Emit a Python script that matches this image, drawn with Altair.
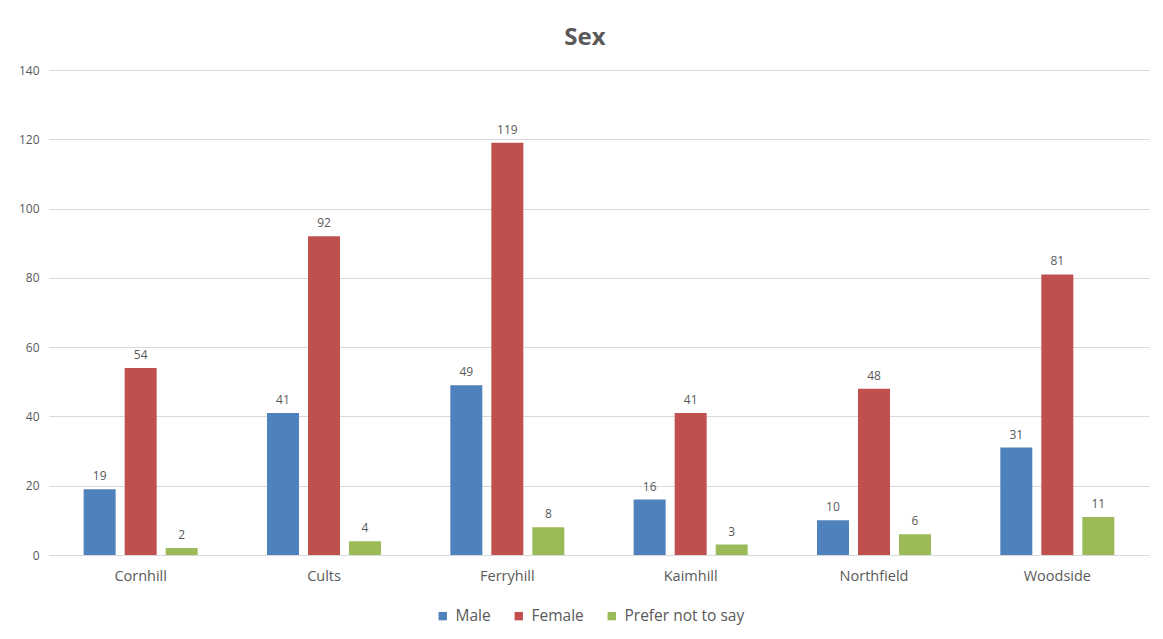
import altair as alt
import pandas as pd

categories = ["Cornhill", "Cults", "Ferryhill", "Kaimhill", "Northfield", "Woodside"]
series = ["Male", "Female", "Prefer not to say"]
male = [19, 41, 49, 16, 10, 31]
female = [54, 92, 119, 41, 48, 81]
prefer_not = [2, 4, 8, 3, 6, 11]
colors = ["#4F81BD", "#C0504D", "#9BBB59"]

rows = []
for vals, s in zip([male, female, prefer_not], series):
    for c, v in zip(categories, vals):
        rows.append({"Area": c, "Sex": s, "Count": v})
df = pd.DataFrame(rows)

FONT = "Open Sans"
GRAY = "#595959"

base = alt.Chart(df).encode(
    x=alt.X("Area:N", sort=categories, title=None,
            scale=alt.Scale(paddingInner=0.378, paddingOuter=0.189),
            axis=alt.Axis(labelAngle=0, labelFontSize=14.5, labelColor=GRAY, labelFont=FONT,
                          labelPadding=14, ticks=False, domain=False, grid=False)),
    xOffset=alt.XOffset("Sex:N", sort=series,
                        scale=alt.Scale(paddingInner=0.22, paddingOuter=0)),
)

bars = base.mark_bar().encode(
    y=alt.Y("Count:Q", title=None,
            scale=alt.Scale(domain=[0, 140], nice=False),
            axis=alt.Axis(values=list(range(0, 141, 20)), labelFontSize=12, labelColor=GRAY,
                          labelFont=FONT, labelPadding=10, ticks=False, domain=False,
                          grid=True, gridColor="#D9D9D9", gridWidth=1)),
    color=alt.Color("Sex:N", sort=series,
                    scale=alt.Scale(domain=series, range=colors),
                    legend=alt.Legend(title=None, orient="none", direction="horizontal",
                                      legendX=386, legendY=538,
                                      symbolType="square", symbolSize=70, symbolStrokeWidth=0,
                                      labelFontSize=15.5, labelColor=GRAY, labelFont=FONT,
                                      columnPadding=20, symbolOffset=0, labelOffset=5)),
)

labels = base.mark_text(dy=-13, fontSize=12, color=GRAY, font=FONT).encode(
    y=alt.Y("Count:Q"),
    text=alt.Text("Count:Q"),
)

chart = (bars + labels).properties(
    width=1100,
    height=485,
    autosize=alt.AutoSizeParams(type="none"),
    padding={"left": 41, "top": 62, "right": 5, "bottom": 76},
    title=alt.Title("Sex", fontSize=24, fontWeight="bold", color=GRAY, font=FONT,
                    anchor="middle", offset=14, dx=-14),
).configure(background="white").configure_view(strokeWidth=0, stroke=None)

chart.save("out.html", embed_options={"renderer": "svg", "actions": False})
